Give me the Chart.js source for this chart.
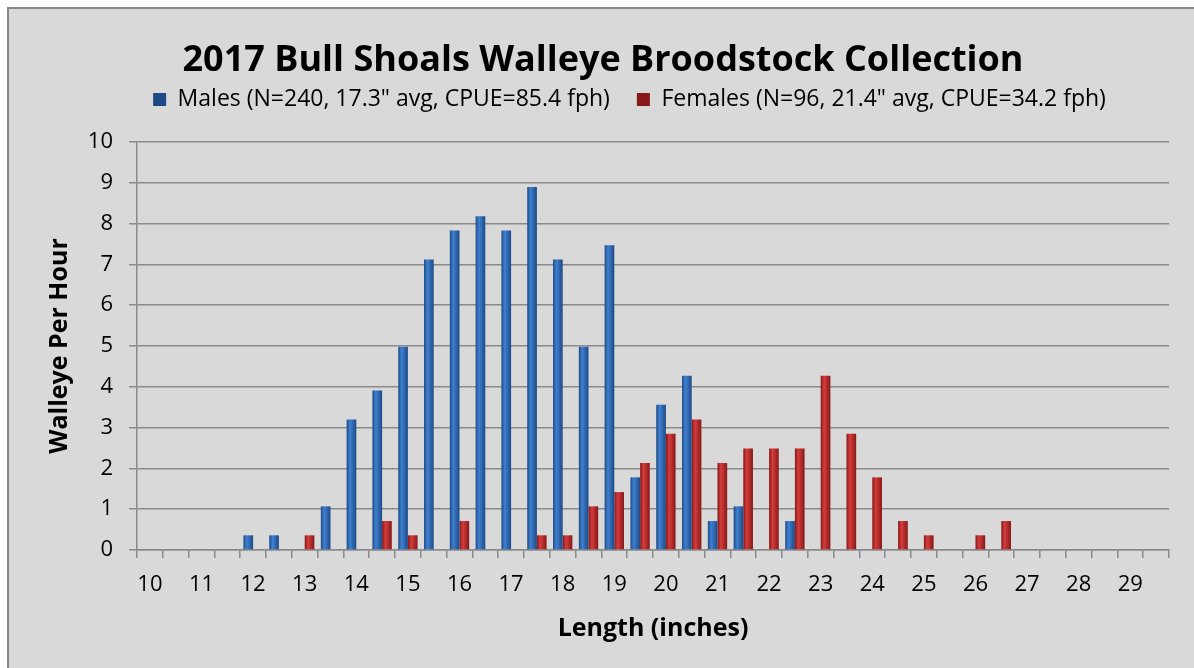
<!DOCTYPE html>
<html>
<head>
<meta charset="utf-8">
<script src="https://cdn.jsdelivr.net/npm/chart.js@4.4.1/dist/chart.umd.min.js"></script>
<style>
    body { margin: 0; background: #fff; overflow: hidden; }
    #frame { position: absolute; left: 7px; top: 7px; width: 1200px; height: 680px;
             background: #d9d9d9; border-left: 2px solid #878787; border-top: 2px solid #878787; }
    #chart { position: absolute; left: 0; top: 0; }
    #title { position: absolute; left: 0; width: 1206px; top: 33px; text-align: center; line-height: 40px;
             font: bold 36px "Open Sans", sans-serif; color: #000; margin: 0; white-space: nowrap; }
</style>
</head>
<body>
<div id="frame"></div>
<canvas id="chart" width="1194" height="668"></canvas>
<h1 id="title">2017 Bull Shoals Walleye Broodstock Collection</h1>
<script>
    const lengthBins = ['10', '10.5', '11', '11.5', '12', '12.5', '13', '13.5', '14', '14.5',
                        '15', '15.5', '16', '16.5', '17', '17.5', '18', '18.5', '19', '19.5',
                        '20', '20.5', '21', '21.5', '22', '22.5', '23', '23.5', '24', '24.5',
                        '25', '25.5', '26', '26.5', '27', '27.5', '28', '28.5', '29', '29.5'];

    const malesPerHour = [0, 0, 0, 0, 0.36, 0.36, 0, 1.07, 3.20, 3.91,
                          4.98, 7.12, 7.83, 8.18, 7.83, 8.90, 7.12, 4.98, 7.47, 1.78,
                          3.56, 4.27, 0.71, 1.07, 0, 0.71, 0, 0, 0, 0,
                          0, 0, 0, 0, 0, 0, 0, 0, 0, 0];

    const femalesPerHour = [0, 0, 0, 0, 0, 0, 0.36, 0, 0, 0.71,
                            0.36, 0, 0.71, 0, 0, 0.36, 0.36, 1.07, 1.42, 2.13,
                            2.85, 3.20, 2.13, 2.49, 2.49, 2.49, 4.27, 2.85, 1.78, 0.71,
                            0.36, 0, 0.36, 0.71, 0, 0, 0, 0, 0, 0];

    const yTicks = [0, 1, 2, 3, 4, 5, 6, 7, 8, 9, 10];

    const fontFamily = '"Open Sans", sans-serif';
    const gridColor = '#8a8a8a';
    const catPct = 0.75;

    // shaded bar fill, darker at the edges like the Excel bevel
    function barFill(base, edge, light, side) {
        return ctx => {
            const chart = ctx.chart;
            const xs = chart.scales.x;
            if (!xs || ctx.dataIndex === undefined || !chart.chartArea) return base;
            const c = xs.getPixelForValue(ctx.dataIndex);
            const w = xs.width / lengthBins.length * catPct / 2;
            const x0 = side < 0 ? c - w : c;
            const g = chart.ctx.createLinearGradient(x0, 0, x0 + w, 0);
            g.addColorStop(0, edge);
            g.addColorStop(0.35, light);
            g.addColorStop(1, edge);
            return g;
        };
    }

    // legend: fixed height so the plot starts where the original does, and nudged right
    const legendPlace = {
        id: 'legendPlace',
        beforeInit(chart) {
            const fit = chart.legend.fit;
            chart.legend.fit = function() {
                fit.bind(chart.legend)();
                this.height = 81;
            };
        },
        afterLayout(chart) {
            chart.legend.left += 28;
            chart.legend.right += 28;
        }
    };

    new Chart(document.getElementById('chart').getContext('2d'), {
        type: 'bar',
        data: {
            labels: lengthBins,
            datasets: [{
                label: 'Males (N=240, 17.3" avg, CPUE=85.4 fph)',
                data: malesPerHour,
                backgroundColor: barFill('#2e63a8', '#1d4a86', '#3f80d0', -1),
                borderWidth: 0,
                categoryPercentage: catPct,
                barPercentage: 1.0
            }, {
                label: 'Females (N=96, 21.4" avg, CPUE=34.2 fph)',
                data: femalesPerHour,
                backgroundColor: barFill('#b52525', '#861818', '#d63c3c', 1),
                borderWidth: 0,
                categoryPercentage: catPct,
                barPercentage: 1.0
            }]
        },
        plugins: [legendPlace],
        options: {
            responsive: false,
            animation: false,
            layout: { padding: { top: 61, left: 34, right: 25, bottom: 20 } },
            plugins: {
                title: { display: false },
                tooltip: { enabled: false },
                legend: {
                    position: 'top',
                    labels: {
                        font: { family: fontFamily, size: 23 },
                        color: '#000',
                        boxWidth: 13,
                        boxHeight: 13,
                        padding: 27
                    }
                }
            },
            scales: {
                x: {
                    afterFit: scale => { scale.height = 98; },
                    grid: { drawOnChartArea: false, drawTicks: true, tickLength: 8, color: gridColor, lineWidth: 1.5, offset: true },
                    border: { display: true, color: gridColor, width: 1.5 },
                    ticks: {
                        autoSkip: false,
                        maxRotation: 0,
                        padding: 14,
                        color: '#000',
                        font: { family: fontFamily, size: 22 },
                        callback: function(value) {
                            const lab = lengthBins[value];
                            return lab.indexOf('.') === -1 ? lab : '';
                        }
                    },
                    title: {
                        display: true,
                        text: 'Length (inches)',
                        color: '#000',
                        font: { family: fontFamily, size: 25, weight: 'bold' },
                        padding: { top: 0, bottom: 4 }
                    }
                },
                y: {
                    min: yTicks[0],
                    max: yTicks[yTicks.length - 1],
                    afterBuildTicks: scale => { scale.ticks = yTicks.map(v => ({ value: v })); },
                    afterFit: scale => { scale.width = 103; },
                    grid: { color: gridColor, lineWidth: 1.5, tickLength: 8 },
                    border: { display: true, color: gridColor, width: 1.5 },
                    ticks: {
                        padding: 16,
                        color: '#000',
                        font: { family: fontFamily, size: 22 }
                    },
                    title: {
                        display: true,
                        text: 'Walleye Per Hour',
                        color: '#000',
                        font: { family: fontFamily, size: 25, weight: 'bold' },
                        padding: { top: 11, bottom: 0 }
                    }
                }
            }
        }
    });
</script>
</body>
</html>
